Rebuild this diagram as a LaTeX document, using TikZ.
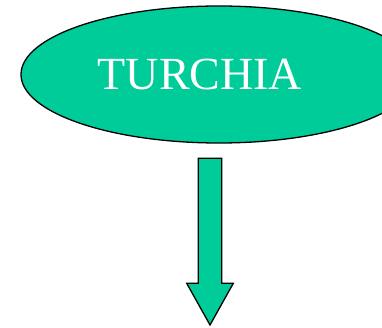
\documentclass[tikz,border=0pt]{standalone}
\usepackage{fontspec}
\setmainfont{Liberation Serif}
\usetikzlibrary{shapes.geometric}
\definecolor{turq}{HTML}{00CC99}
\begin{document}
\begin{tikzpicture}[x=1pt,y=-1pt,
  shapeline/.style={draw=black,line width=1.3pt,fill=turq,line join=miter}]
\useasboundingbox (0,0) rectangle (382,328);
\begin{scope}
\clip (0,0) rectangle (382,328);
\node[shapeline,ellipse,minimum width=396pt,minimum height=137pt,inner sep=0pt] (turchia) at (219,74.5) {};
\end{scope}
\node[text=white,font=\fontsize{46}{50}\selectfont,anchor=base] (label) at (200,90) {TURCHIA};
\coordinate (tip) at (210,325);
\draw[shapeline] (198.3,158.3) -- (221.7,158.3) -- (221.7,283.3) -- (233.3,283.3) -- (tip) -- (186.7,283.3) -- (198.3,283.3) -- cycle;
\end{tikzpicture}
\end{document}
